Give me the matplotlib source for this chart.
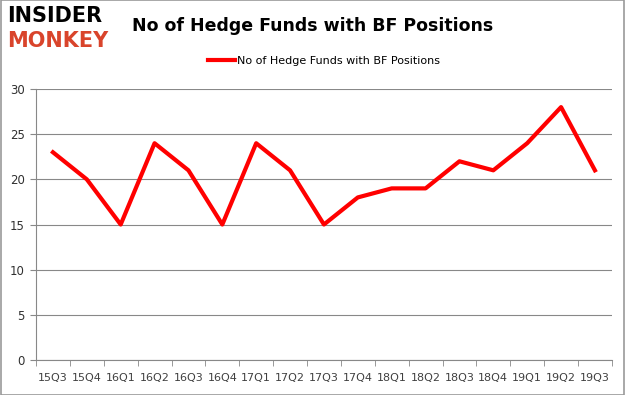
import numpy as np
import matplotlib
matplotlib.use("Agg")
import matplotlib.pyplot as plt
from matplotlib.patches import Rectangle

quarters = ["15Q3", "15Q4", "16Q1", "16Q2", "16Q3", "16Q4", "17Q1", "17Q2", "17Q3",
            "17Q4", "18Q1", "18Q2", "18Q3", "18Q4", "19Q1", "19Q2", "19Q3"]
hedge_funds = [23, 20, 15, 24, 21, 15, 24, 21, 15, 18, 19, 19, 22, 21, 24, 28, 21]
series_name = "No of Hedge Funds with BF Positions"

fig = plt.figure(figsize=(6.25, 3.95), dpi=100)
ax = fig.add_axes([0.0576, 0.0886, 0.9214, 0.686])

x = np.arange(len(quarters))
ax.plot(x, hedge_funds, color="#ff0000", lw=3, label=series_name)

ax.set_xlim(-0.5, len(quarters) - 0.5)
ax.set_ylim(0, 30)
ax.set_yticks(range(0, 31, 5))
ax.set_xticks(x)
ax.set_xticklabels(quarters, fontsize=8, color="#404040")
ax.set_xticks(np.arange(-0.5, len(quarters), 1), minor=True)
ax.tick_params(axis="x", which="major", length=0, pad=9)
ax.tick_params(axis="x", which="minor", length=4, color="#888888")
ax.tick_params(axis="y", length=4, color="#888888", labelsize=8.5,
               labelcolor="#303030", pad=4)
ax.grid(axis="y", color="#888888", lw=0.8)
ax.set_axisbelow(True)
for side in ["top", "right"]:
    ax.spines[side].set_visible(False)
ax.spines["bottom"].set_color("#888888")
ax.spines["left"].set_color("#888888")

ax.legend(loc="upper center", bbox_to_anchor=(0.5, 1.16), frameon=False,
          fontsize=8, handlelength=2.4, handletextpad=0.2)

fig.text(0.5, 0.935, "No of Hedge Funds with BF Positions", ha="center", va="center",
         fontsize=12.5, fontweight="bold", color="black")

# logo
fig.text(0.012, 0.96, "INSIDER", fontsize=15, fontweight="bold", color="black",
         va="center", ha="left", family="DejaVu Sans")
fig.text(0.012, 0.895, "MONKEY", fontsize=15, fontweight="bold", color="#d9442b",
         va="center", ha="left", family="DejaVu Sans")

fig.patches.append(Rectangle((0.001, 0.001), 0.998, 0.998, transform=fig.transFigure,
                             fill=False, edgecolor="#999999", lw=1.2))

fig.savefig("out.png", dpi=100)
